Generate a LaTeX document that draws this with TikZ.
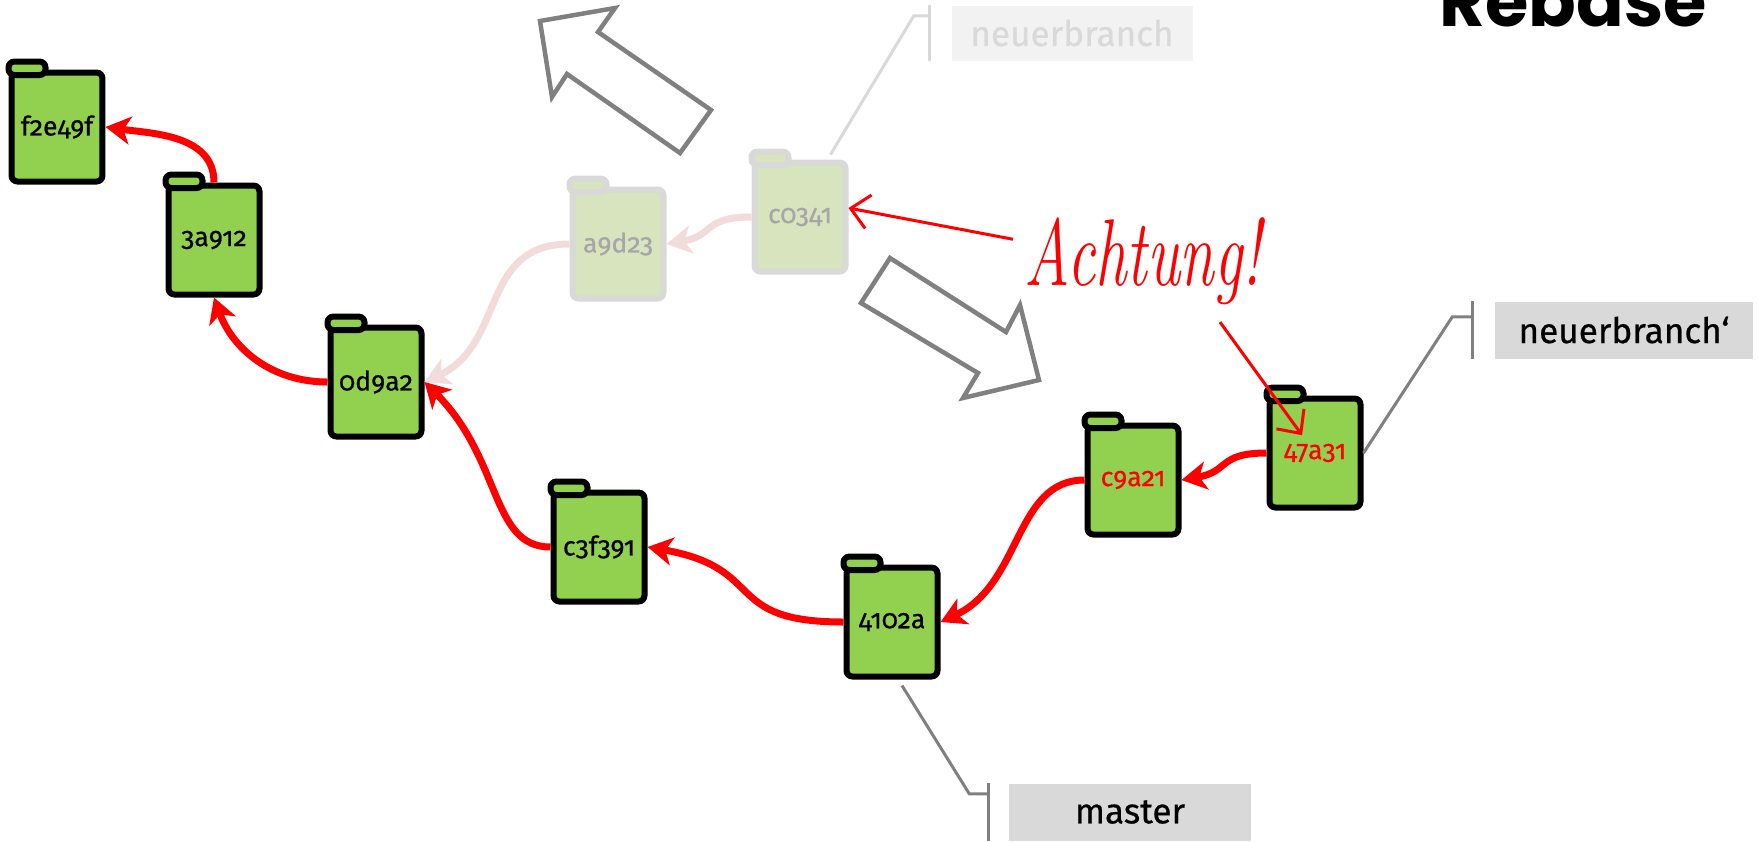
\documentclass[tikz,border=0pt]{standalone}
\usepackage{fontspec}
\usepackage{graphicx}
\usetikzlibrary{arrows.meta}
\newfontfamily\gitfont{Fira Sans}[Numbers=OldStyle,FakeBold=0.6]
\newfontfamily\titlefont{Poppins}
\definecolor{foldergreen}{HTML}{92D050}
\definecolor{fadegreen}{HTML}{D7E4BD}
\definecolor{fadeline}{HTML}{D9D9D9}
\definecolor{fadetext}{HTML}{A6A6A6}
\definecolor{fadepink}{HTML}{F2DCDB}
\definecolor{labelgray}{HTML}{D9D9D9}
\definecolor{fadelabel}{HTML}{F2F2F2}
\definecolor{arrowgray}{HTML}{808080}
\begin{document}
\begin{tikzpicture}[x=0.1mm,y=0.1mm,
    commit/.style={draw=black,line width=0.6mm,fill=foldergreen,rounded corners=0.6mm,
      minimum width=9.1mm,minimum height=10.9mm,inner sep=0pt,
      font=\gitfont\fontsize{7.6}{9}\selectfont},
    oldcommit/.style={commit,draw=fadeline,fill=fadegreen,text=fadetext},
    foldertab/.style={draw=black,line width=0.6mm,fill=foldergreen,rounded corners=0.6mm},
    oldtab/.style={foldertab,draw=fadeline,fill=fadegreen},
    parentlink/.style={draw=red,line width=0.7mm,-{Stealth[length=2.5mm,width=2.8mm,inset=0.7mm]}},
    oldlink/.style={parentlink,draw=fadepink},
    hintarrow/.style={draw=red,line width=0.3mm,-{Straight Barb[length=1.8mm,width=3.4mm]}},
    movearrow/.style={draw=arrowgray,line width=0.45mm,fill=white,line join=miter},
    branchlabel/.style={fill=labelgray,minimum height=5.7mm,inner sep=0pt,
      font=\gitfont\fontsize{10}{12}\selectfont},
    branchtick/.style={draw=arrowgray,line width=0.3mm},
    oldtick/.style={draw=fadeline,line width=0.3mm}]
    \useasboundingbox (0,0) rectangle (1758,-841);

    % 大箭头
    \draw[movearrow] (540,-21) -- (615,-8) -- (598,-32) -- (711,-110) -- (680,-153) -- (567,-74) -- (552,-97) -- cycle;
    \draw[movearrow] (890,-258) -- (1006,-332) -- (1020,-305) -- (1039,-380) -- (963,-398) -- (978,-373) -- (861,-303) -- cycle;

    % 提交
    \node[commit] (cf2e49f) at (57,-127) {f2e49f};
    \node[commit] (c3a912) at (214,-240) {3a912};
    \node[commit] (c0d9a2) at (376,-382) {0d9a2};
    \node[oldcommit] (ca9d23) at (618,-244) {a9d23};
    \node[oldcommit] (cc0341) at (800,-217) {c0341};
    \node[commit] (c3f391) at (599,-547) {c3f391};
    \node[commit] (c4102a) at (892,-622) {4102a};
    \node[commit,text=red] (c9a21) at (1133,-480) {c9a21};
    \node[commit,text=red] (c47a31) at (1315,-453) {47a31};

    \foreach \c in {cf2e49f,c3a912,c0d9a2,c3f391,c4102a,c9a21,c47a31}
        \draw[foldertab] ([yshift=0.8mm]\c.north west) rectangle ++(3.7mm,-1.35mm);
    \foreach \c in {ca9d23,cc0341}
        \draw[oldtab] ([yshift=0.8mm]\c.north west) rectangle ++(3.7mm,-1.35mm);

    % 父提交
    \draw[oldlink] (cc0341.west) to[out=180,in=10,looseness=1.4] (ca9d23.east);
    \draw[oldlink] (ca9d23.west) to[out=180,in=25,out distance=9mm,in distance=9mm] (c0d9a2.east);
    \draw[parentlink] (c3a912.north) to[out=90,in=-8] (cf2e49f.east);
    \draw[parentlink] (c0d9a2.west) to[out=180,in=-70] (c3a912.south);
    \draw[parentlink] (c3f391.west) to[out=180,in=-45,out distance=6mm,in distance=11mm] (c0d9a2.east);
    \draw[parentlink] (c4102a.west) to[out=180,in=-10,looseness=1.5] (c3f391.east);
    \draw[parentlink] (c9a21.west) to[out=180,in=25,out distance=7mm,in distance=9mm] (c4102a.east);
    \draw[parentlink] (c47a31.west) to[out=180,in=10,looseness=1.4] (c9a21.east);

    % 分支标签
    \node[branchlabel,minimum width=24.2mm] (lmaster) at (1130,-812) {master};
    \node[branchlabel,minimum width=25.8mm] (lneu) at (1624,-330) {neuerbranch‘};
    \node[branchlabel,minimum width=24.1mm,minimum height=5.5mm,fill=fadelabel,text=fadeline] (lalt) at (1072,-33) {neuerbranch};

    \coordinate (kmaster) at ([shift={(-3.9mm,-1.1mm)}]lmaster.north west);
    \coordinate (kneu) at ([shift={(-4.2mm,-1.6mm)}]lneu.north west);
    \coordinate (kalt) at ([shift={(-3.7mm,-1.1mm)}]lalt.north west);
    \draw[branchtick] ([xshift=-2mm]lmaster.north west) -- ([xshift=-2mm]lmaster.south west);
    \draw[branchtick] ([shift={(1mm,-0.6mm)}]c4102a.south) -- (kmaster) -- ++(1.9mm,0);
    \draw[branchtick] ([xshift=-2.2mm]lneu.north west) -- ([xshift=-2.2mm]lneu.south west);
    \draw[branchtick] (c47a31.east) -- (kneu) -- ++(2mm,0);
    \draw[oldtick] ([xshift=-2.1mm]lalt.north west) -- ([xshift=-2.1mm]lalt.south west);
    \draw[oldtick] ([shift={(-1.8mm,0.5mm)}]cc0341.north east) -- (kalt) -- ++(1.6mm,0);

    % 警告
    \node[text=red,font=\fontsize{27}{30}\selectfont\itshape,anchor=base,inner sep=0pt] (achtung) at (1143,-285) {\scalebox{0.66}[1]{Achtung!}};
    \draw[hintarrow] ([shift={(-1.1mm,2.15mm)}]achtung.west) -- ([yshift=0.9mm]cc0341.east);
    \draw[hintarrow,shorten >=2.2mm] ([shift={(7.7mm,-1.7mm)}]achtung.south) -- (c47a31.center);

    % 标题
    \node[font=\titlefont\bfseries\fontsize{20}{24}\selectfont,anchor=base] (title) at (1573,-26) {Rebase};
\end{tikzpicture}
\end{document}
